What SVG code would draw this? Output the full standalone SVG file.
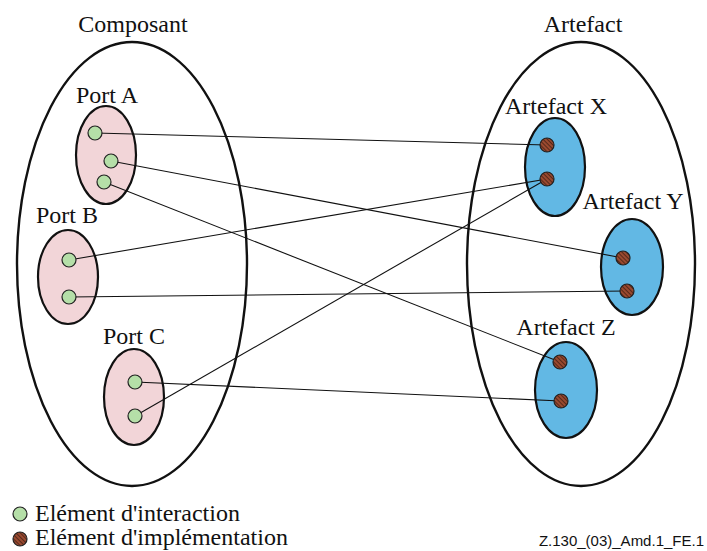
<svg xmlns="http://www.w3.org/2000/svg" width="707" height="551" viewBox="0 0 707 551">
<style>
.big{fill:none;stroke:#111;stroke-width:2.4}
.port{fill:#f2d5d8;stroke:#111;stroke-width:2.2}
.art{fill:#62b8e4;stroke:#111;stroke-width:2.2}
.g{fill:#b5dfa8;stroke:#222;stroke-width:1.2}
.b{fill:url(#hatch);stroke:#222;stroke-width:1.2}
.lbl{font-family:"Liberation Serif","Times New Roman",serif;font-size:24px;fill:#111}
.c line{stroke:#111;stroke-width:1.1}
.foot{font-family:"Liberation Sans",Arial,sans-serif;font-size:15px;fill:#111}
</style>
<defs>
<pattern id="hatch" patternUnits="userSpaceOnUse" width="3" height="3" patternTransform="rotate(-45)">
<rect width="3" height="3" fill="#9a4a30"/>
<line x1="0" y1="0" x2="0" y2="3" stroke="#3a1a10" stroke-width="1.4"/>
</pattern>
</defs>
<rect width="707" height="551" fill="#fff"/>
<g id="composant">
<ellipse class="big" cx="132" cy="264" rx="115" ry="222"/>
<text class="lbl" x="133" y="32" text-anchor="middle">Composant</text>
</g>
<g id="artefact">
<ellipse class="big" cx="581" cy="264" rx="114" ry="222"/>
<text class="lbl" x="583" y="32" text-anchor="middle">Artefact</text>
</g>
<g id="portA">
<ellipse class="port" cx="106" cy="155" rx="30" ry="49"/>
<text class="lbl" x="107" y="103" text-anchor="middle">Port A</text>
</g>
<g id="portB">
<ellipse class="port" cx="68" cy="277" rx="30" ry="47"/>
<text class="lbl" x="67" y="223" text-anchor="middle">Port B</text>
</g>
<g id="portC">
<ellipse class="port" cx="134" cy="397" rx="30" ry="48"/>
<text class="lbl" x="134" y="344" text-anchor="middle">Port C</text>
</g>
<g id="artX">
<ellipse class="art" cx="555" cy="167" rx="30" ry="49"/>
<text class="lbl" x="556" y="114" text-anchor="middle">Artefact X</text>
</g>
<g id="artY">
<ellipse class="art" cx="632" cy="267" rx="31" ry="48"/>
<text class="lbl" x="633" y="209" text-anchor="middle">Artefact Y</text>
</g>
<g id="artZ">
<ellipse class="art" cx="566" cy="390" rx="31" ry="48"/>
<text class="lbl" x="566" y="335" text-anchor="middle">Artefact Z</text>
</g>
<g id="connectors" class="c">
<line x1="95" y1="133" x2="547" y2="145"/>
<line x1="111" y1="161" x2="623" y2="258"/>
<line x1="104" y1="182" x2="560" y2="362"/>
<line x1="69" y1="260" x2="547" y2="179"/>
<line x1="69" y1="297" x2="627" y2="291"/>
<line x1="135" y1="382" x2="561" y2="401"/>
<line x1="135" y1="416" x2="547" y2="179"/>
</g>
<g id="elements">
<circle class="g" cx="95" cy="133" r="7"/>
<circle class="g" cx="111" cy="161" r="7"/>
<circle class="g" cx="104" cy="182" r="7"/>
<circle class="g" cx="69" cy="260" r="7"/>
<circle class="g" cx="69" cy="297" r="7"/>
<circle class="g" cx="135" cy="382" r="7"/>
<circle class="g" cx="135" cy="416" r="7"/>
<circle class="b" cx="547" cy="145" r="7"/>
<circle class="b" cx="547" cy="179" r="7"/>
<circle class="b" cx="623" cy="258" r="7"/>
<circle class="b" cx="627" cy="291" r="7"/>
<circle class="b" cx="560" cy="362" r="7"/>
<circle class="b" cx="561" cy="401" r="7"/>
</g>
<g id="legend">
<circle class="g" cx="20" cy="514" r="7"/>
<text class="lbl" x="35" y="521">Elément d'interaction</text>
<circle class="b" cx="20" cy="539" r="7"/>
<text class="lbl" x="35" y="545">Elément d'implémentation</text>
</g>
<text class="foot" x="704" y="546" text-anchor="end">Z.130_(03)_Amd.1_FE.1</text>
</svg>
